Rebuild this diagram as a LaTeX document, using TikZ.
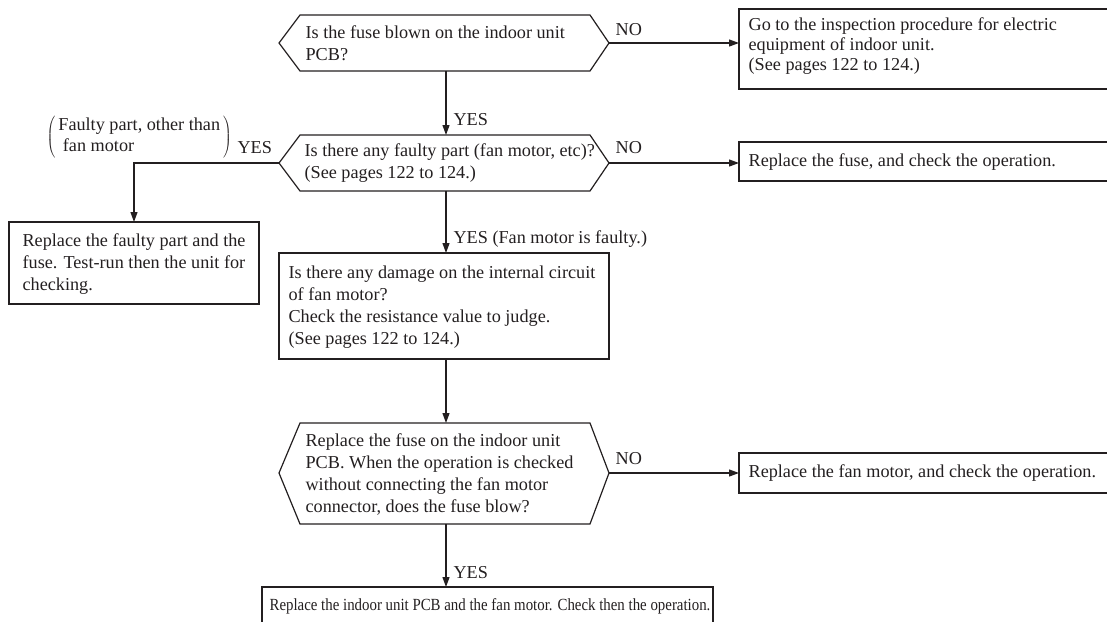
\documentclass[tikz,border=0pt]{standalone}
\usepackage{graphicx}
\usepackage{fontspec}
\setmainfont{Liberation Serif}
\usetikzlibrary{arrows.meta,calc}
\definecolor{ink}{RGB}{35,31,32}
\begin{document}
\begin{tikzpicture}[x=1pt,y=-1pt,
  line width=1.2pt,
  frame/.style={draw=ink, line width=1.2pt, inner sep=0pt, outer sep=0pt, anchor=north west},
  txt/.style={anchor=west, align=left, inner sep=0pt, text=ink, font=\fontsize{18.2}{22}\selectfont},
  arr/.style={draw=ink, -{Triangle[length=10pt,width=7pt]}, line width=1.2pt},
  lbl/.style={anchor=west, inner sep=0pt, text=ink, font=\fontsize{18.2}{22}\selectfont},
  hexa/.style={draw=ink, line width=1.2pt, line join=miter}]
\useasboundingbox (0,0) rectangle (1107,621);

% hexagon 1
\coordinate (h1L) at (279,43);  \coordinate (h1TL) at (300,15);
\coordinate (h1TR) at (590,15); \coordinate (h1R) at (609,43);
\coordinate (h1BR) at (590,71); \coordinate (h1BL) at (300,71);
\coordinate (h1B) at (446,71);
\draw[hexa] (h1L) -- (h1TL) -- (h1TR) -- (h1R) -- (h1BR) -- (h1BL) -- cycle;
\node[txt] (t1) at (305,43) {Is the fuse blown on the indoor unit\\PCB?};

% hexagon 2
\coordinate (h2L) at (279,163);  \coordinate (h2TL) at (300,135);
\coordinate (h2TR) at (590,135); \coordinate (h2R) at (609,163);
\coordinate (h2BR) at (590,191); \coordinate (h2BL) at (300,191);
\coordinate (h2T) at (446,135);  \coordinate (h2B) at (446,191);
\draw[hexa] (h2L) -- (h2TL) -- (h2TR) -- (h2R) -- (h2BR) -- (h2BL) -- cycle;
\node[txt] (t2) at (304,163) {Is there any faulty part (fan motor, etc)?\\(See pages 122 to 124.)};

% hexagon 3
\coordinate (h3L) at (279,473);  \coordinate (h3TL) at (300,423);
\coordinate (h3TR) at (590,423); \coordinate (h3R) at (609,473);
\coordinate (h3BR) at (590,524); \coordinate (h3BL) at (300,524);
\coordinate (h3T) at (446,423);  \coordinate (h3B) at (446,524);
\draw[hexa] (h3L) -- (h3TL) -- (h3TR) -- (h3R) -- (h3BR) -- (h3BL) -- cycle;
\node[txt] (t3) at (305,474) {Replace the fuse on the indoor unit\\PCB. When the operation is checked\\without connecting the fan motor\\connector, does the fuse blow?};

% rectangles
\node[frame, minimum width=371pt, minimum height=80pt] (rb1) at (739,9) {};
\node[txt, font=\fontsize{18.2}{20}\selectfont] (trb1) at (748,46) {Go to the inspection procedure for electric\\equipment of indoor unit.\\(See pages 122 to 124.)};

\node[frame, minimum width=371pt, minimum height=39pt] (rb2) at (739,142) {};
\node[txt] (trb2) at (748,162) {Replace the fuse, and check the operation.};

\node[frame, minimum width=371pt, minimum height=40pt] (rb3) at (739,453) {};
\node[txt] (trb3) at (748,473) {Replace the fan motor, and check the operation.};

\node[frame, minimum width=250pt, minimum height=82pt] (lb) at (9,222) {};
\node[txt] (tlb) at (22,264) {Replace the faulty part and the\\fuse. Test-run then the unit for\\checking.};

\node[frame, minimum width=330pt, minimum height=106pt] (mid) at (279,253) {};
\node[txt] (tmid) at (288,307) {Is there any damage on the internal circuit\\of fan motor?\\Check the resistance value to judge.\\(See pages 122 to 124.)};

\node[frame, minimum width=451pt, minimum height=42pt] (bb) at (262,587) {};
\node[txt, font=\fontsize{17}{20}\selectfont] (tbb) at (269,606) {\scalebox{0.875}[1]{Replace the indoor unit PCB and the fan motor. Check then the operation.}};

% connectors
\draw[arr] (h1R) -- (h1R -| rb1.west);
\draw[arr] (h2R) -- (h2R -| rb2.west);
\draw[arr] (h3R) -- (h3R -| rb3.west);
\draw[arr] (h1B) -- (h2T);
\draw[arr] (h2B) -- (h2B |- mid.north);
\draw[arr] (h2L) -| (lb.north);
\draw[arr] (mid.south -| h2B) -- (h3T);
\draw[arr] (h3B) -- (h3B |- bb.north);

% labels
\node[lbl] (no1) at (615,30) {NO};
\node[lbl] (no2) at (615,148) {NO};
\node[lbl] (no3) at (615,459) {NO};
\node[lbl] (yes1) at (453,120) {YES};
\node[lbl] (yes2) at (453,239) {YES (Fan motor is faulty.)};
\node[lbl] (yes3) at (453,573) {YES};
\node[lbl] (yes4) at (237,148) {YES};
\node[lbl] (paren) at (46,137) {$\left(\vcenter{\hbox{\,\begin{tabular}{@{}l@{}}Faulty part, other than\\[-1pt] \ fan motor\end{tabular}\,}}\right)$};
\end{tikzpicture}
\end{document}
